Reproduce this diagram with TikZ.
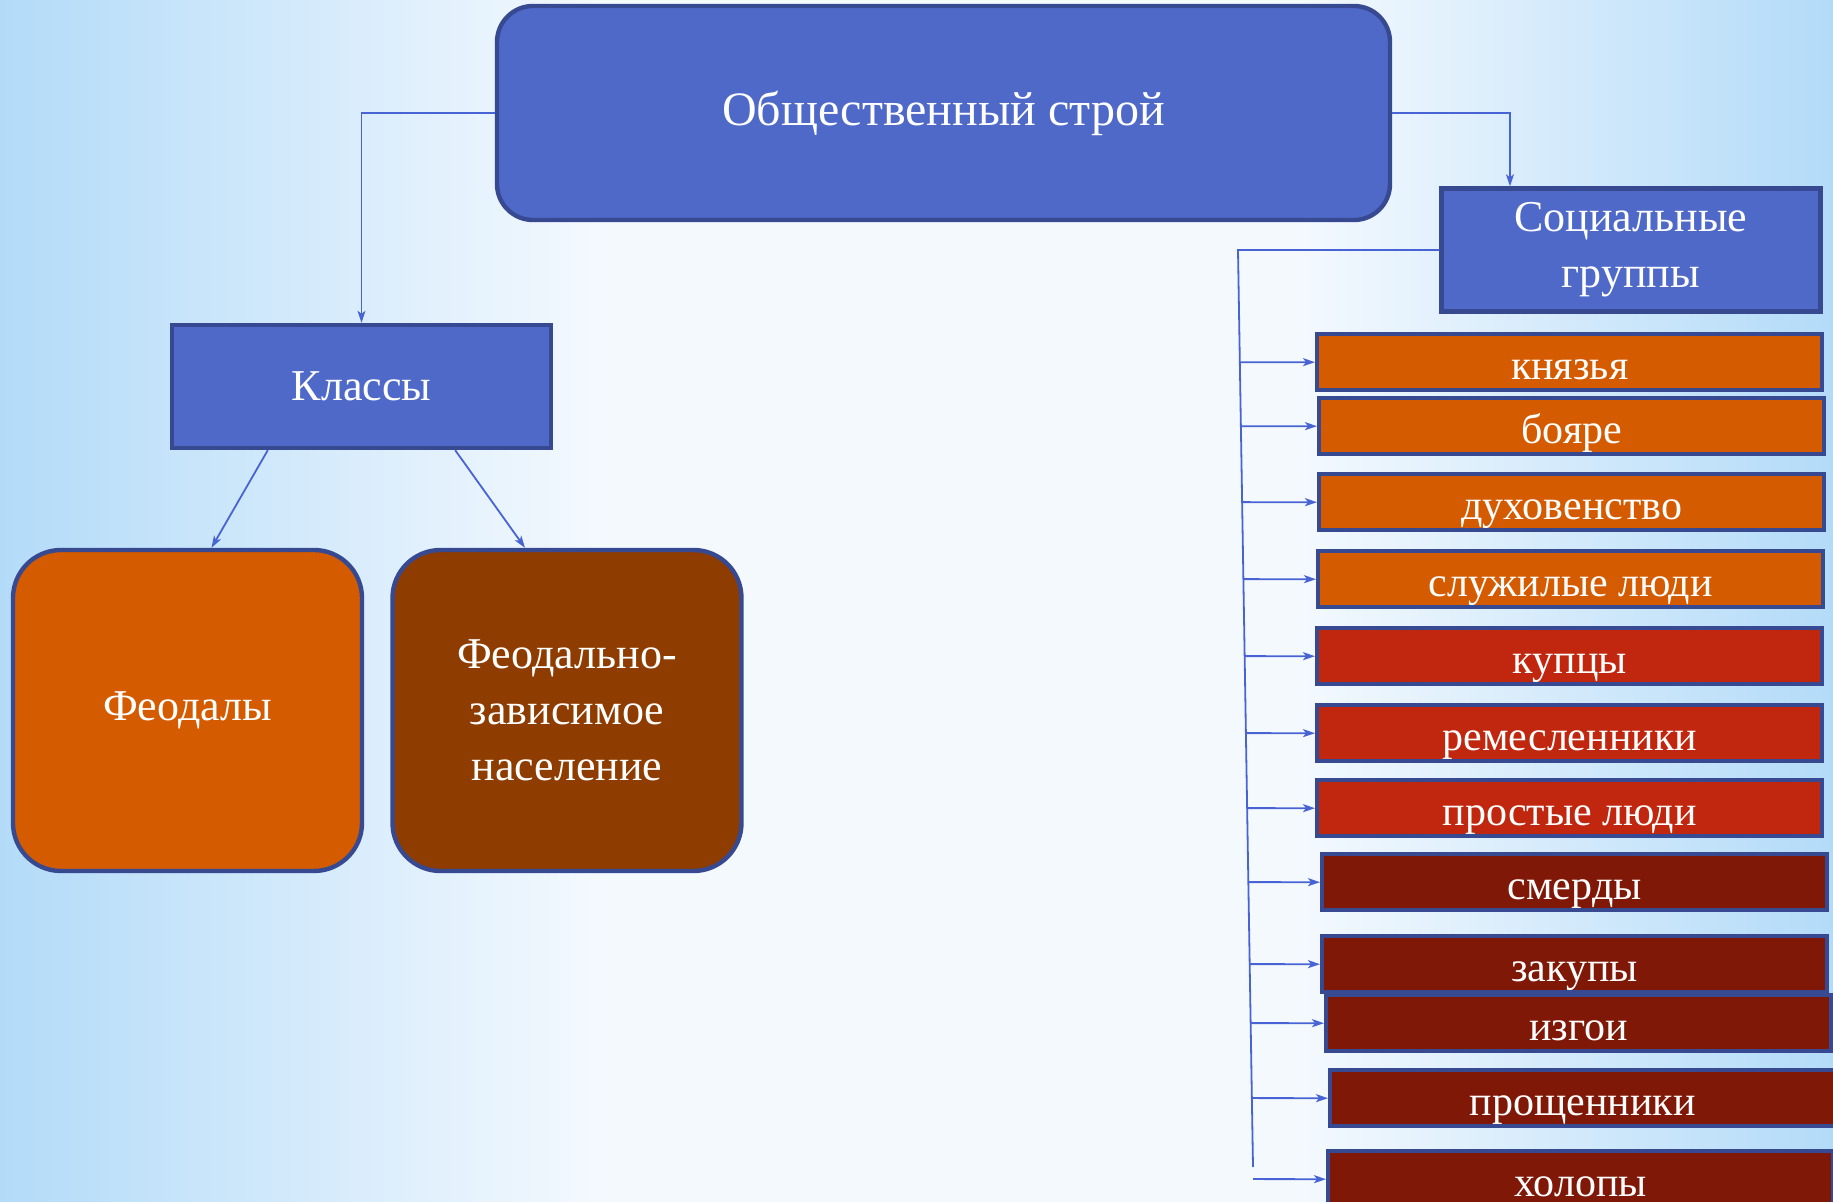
\documentclass[tikz,border=0pt]{standalone}
\usepackage{fontspec}
\setmainfont{Liberation Serif}
\usepackage{tikz}
\usetikzlibrary{
    arrows.meta,
    calc,
    positioning
}

\definecolor{boxblue}{HTML}{4F69C9}
\definecolor{edgeblue}{HTML}{374A91}
\definecolor{lineblue}{HTML}{4863D3}
\definecolor{orangebox}{HTML}{D55B00}
\definecolor{brownbox}{HTML}{8E3C00}
\definecolor{redbox}{HTML}{C1260E}
\definecolor{darkredbox}{HTML}{801808}
\definecolor{bgblue}{HTML}{B3DBF8}
\definecolor{bglight}{HTML}{F4F9FE}

\begin{document}
\begin{tikzpicture}[
    x=0.5pt, y=-0.5pt,
    blockbox/.style={draw=edgeblue, line width=2.2pt, text=white, align=center, font=\fontsize{22}{28}\selectfont},
    topbox/.style={blockbox, fill=boxblue, rounded corners=18pt, minimum width=446.5pt, minimum height=107pt, font=\fontsize{24}{28}\selectfont},
    headbox/.style={blockbox, fill=boxblue, minimum width=189.5pt, minimum height=61.5pt},
    classbox/.style={blockbox, rounded corners=24pt, minimum width=174.5pt, minimum height=160.5pt},
    groupbox/.style={blockbox, anchor=north west, inner sep=0pt, minimum width=252.5pt, text height=22.5pt, text depth=5.5pt, font=\fontsize{21}{24}\selectfont},
    link/.style={draw=lineblue, line width=0.9pt, -{Stealth[length=6pt, width=4pt, inset=1.5pt]}}
]

% Background
\fill[bglight] (0,0) rectangle (1833,1202);
\shade[left color=bgblue, right color=bglight] (0,0) rectangle (600,1202);
\shade[left color=bglight, right color=bgblue] (1300,0) rectangle (1833,1202);
\useasboundingbox (0,0) rectangle (1833,1202);

% Top level
\node[topbox] (top) at (943.5,113) {Общественный строй};
\node[headbox] (classes) at (361.5,386.5) {Классы};
\node[headbox] (socgroups) at (1631,250) {Социальные\\группы};

% Classes
\node[classbox, fill=orangebox] (feudals) at (187.5,710.5) {Феодалы};
\node[classbox, fill=brownbox] (dependent) at (567,710.5) {Феодально-\\зависимое\\население};

% Social groups
\foreach \i/\x/\y/\col/\txt in {
    1/1315/332/orangebox/князья,
    2/1317/396/orangebox/бояре,
    3/1317/472/orangebox/духовенство,
    4/1316/549/orangebox/служилые люди,
    5/1315/626/redbox/купцы,
    6/1315/703/redbox/ремесленники,
    7/1315/778/redbox/простые люди,
    8/1320/852/darkredbox/смерды,
    9/1320/934/darkredbox/закупы,
    10/1324/993/darkredbox/изгои,
    11/1328/1068/darkredbox/прощенники,
    12/1326/1149/darkredbox/холопы} {
    \node[groupbox, fill=\col] (g\i) at (\x,\y) {\txt};
}

% Connections
\draw[link] (top.west) -| (classes.north);
\draw[link] (top.east) -| ([xshift=-60.5pt]socgroups.north);
\draw[link] ([xshift=49pt]classes.south west) -- ([xshift=12pt]feudals.north);
\draw[link] ([xshift=-49pt]classes.south east) -- ([xshift=-21pt]dependent.north);

\coordinate (trunktop) at (1238,250);
\coordinate (trunkend) at (1253,1167);
\draw[draw=lineblue, line width=0.9pt] (socgroups.west) -- (trunktop) -- (trunkend);
\foreach \i in {1,...,12} {
    \draw[link] (intersection of trunktop--trunkend and g\i.west--g\i.east) -- (g\i.west);
}

\end{tikzpicture}
\end{document}
